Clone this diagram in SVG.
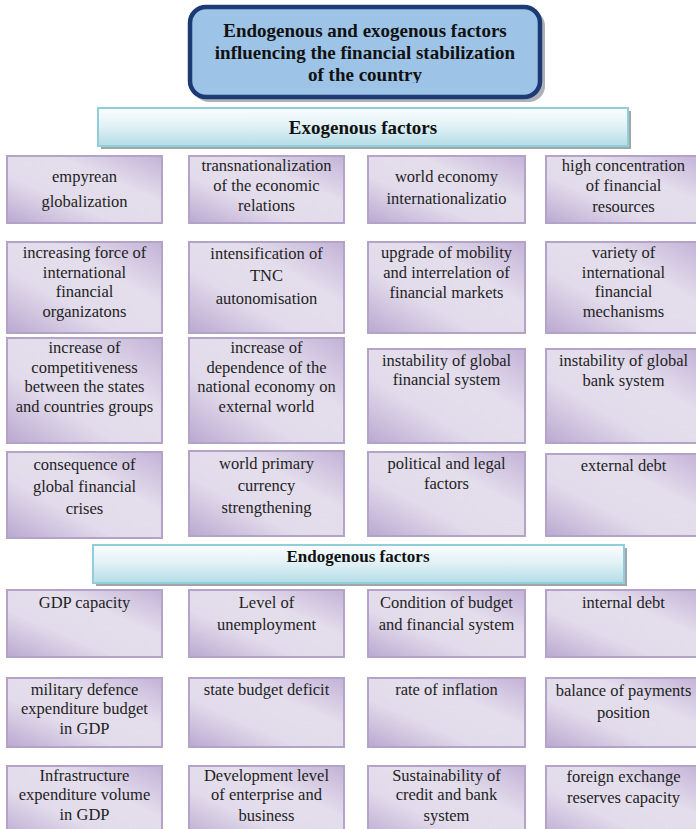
<svg xmlns="http://www.w3.org/2000/svg" width="696" height="829" viewBox="0 0 696 829">
<style>
text{font-family:"Liberation Serif","Times New Roman","DejaVu Serif",serif}
.t{font-size:16.5px;font-weight:normal;fill:#1e1e1e;text-anchor:middle}
.h{font-weight:bold;fill:#111;text-anchor:middle}
.box{fill:url(#gBox);stroke:#b3a3c9;stroke-width:2}
.bar{fill:url(#gBar);stroke:#92cddc;stroke-width:2}
.sh{fill:#9fa5a8}
</style>
<defs>
<linearGradient id="gBox" x1="1" y1="0" x2="0" y2="1">
<stop offset="0" stop-color="#c3b2d7"/>
<stop offset="0.35" stop-color="#e4deec"/>
<stop offset="0.65" stop-color="#e2dbeb"/>
<stop offset="1" stop-color="#baa8d0"/>
</linearGradient>
<linearGradient id="gBar" x1="0" y1="0" x2="0" y2="1">
<stop offset="0" stop-color="#fbfdfe"/>
<stop offset="0.45" stop-color="#e3f2f6"/>
<stop offset="1" stop-color="#b4dce6"/>
</linearGradient>
<clipPath id="cTitle"><rect x="180" y="0" width="380" height="83"/></clipPath>
</defs>

<g id="title">
<rect x="193" y="10" width="352" height="92" rx="16" fill="#8b9099" opacity="0.7"/>
<rect x="190" y="7" width="350" height="90" rx="16" fill="#9dc3e6" stroke="#1c3a73" stroke-width="4.5"/>
<g clip-path="url(#cTitle)">
<text class="h" x="365" y="37" font-size="19">Endogenous and exogenous factors</text>
<text class="h" x="365" y="59" font-size="19">influencing the financial stabilization</text>
<text class="h" x="365" y="81" font-size="19">of the country</text>
</g>
</g>

<g id="exogenous">
<rect class="sh" x="101" y="111" width="530" height="38"/>
<rect class="bar" x="98" y="108" width="530" height="38"/>
<text class="h" x="363" y="134" font-size="19">Exogenous factors</text>
</g>

<g id="ex-1-1"><rect class="box" x="7" y="156" width="155" height="67"/>
<text class="t" x="84.5" y="182">empyrean</text><text class="t" x="84.5" y="207">globalization</text></g>
<g id="ex-1-2"><rect class="box" x="189" y="156" width="155" height="67"/>
<text class="t" x="266.5" y="171">transnationalization</text><text class="t" x="266.5" y="191">of the economic</text><text class="t" x="266.5" y="211">relations</text></g>
<g id="ex-1-3"><rect class="box" x="368" y="156" width="157" height="67"/>
<text class="t" x="446.5" y="182">world economy</text><text class="t" x="446.5" y="204">internationalizatio</text></g>
<g id="ex-1-4"><rect class="box" x="546" y="156" width="155" height="67"/>
<text class="t" x="623.5" y="171">high concentration</text><text class="t" x="623.5" y="191">of financial</text><text class="t" x="623.5" y="212">resources</text></g>

<g id="ex-2-1"><rect class="box" x="7" y="242" width="155" height="91"/>
<text class="t" x="84.5" y="258">increasing force of</text><text class="t" x="84.5" y="277.5">international</text><text class="t" x="84.5" y="297">financial</text><text class="t" x="84.5" y="316.5">organizatons</text></g>
<g id="ex-2-2"><rect class="box" x="189" y="242" width="155" height="91"/>
<text class="t" x="266.5" y="259">intensification of</text><text class="t" x="266.5" y="281">TNC</text><text class="t" x="266.5" y="304">autonomisation</text></g>
<g id="ex-2-3"><rect class="box" x="368" y="242" width="157" height="91"/>
<text class="t" x="446.5" y="258">upgrade of mobility</text><text class="t" x="446.5" y="278">and interrelation of</text><text class="t" x="446.5" y="298">financial markets</text></g>
<g id="ex-2-4"><rect class="box" x="546" y="242" width="155" height="91"/>
<text class="t" x="623.5" y="258">variety of</text><text class="t" x="623.5" y="277.5">international</text><text class="t" x="623.5" y="297">financial</text><text class="t" x="623.5" y="317">mechanisms</text></g>

<g id="ex-3-1"><rect class="box" x="7" y="338" width="155" height="105"/>
<text class="t" x="84.5" y="353">increase of</text><text class="t" x="84.5" y="373">competitiveness</text><text class="t" x="84.5" y="392">between the states</text><text class="t" x="84.5" y="412">and countries groups</text></g>
<g id="ex-3-2"><rect class="box" x="189" y="338" width="155" height="105"/>
<text class="t" x="266.5" y="353">increase of</text><text class="t" x="266.5" y="373">dependence of the</text><text class="t" x="266.5" y="392">national economy on</text><text class="t" x="266.5" y="412">external world</text></g>
<g id="ex-3-3"><rect class="box" x="368" y="349" width="157" height="94"/>
<text class="t" x="446.5" y="366">instability of global</text><text class="t" x="446.5" y="385">financial system</text></g>
<g id="ex-3-4"><rect class="box" x="546" y="349" width="155" height="94"/>
<text class="t" x="623.5" y="366">instability of global</text><text class="t" x="623.5" y="386">bank system</text></g>

<g id="ex-4-1"><rect class="box" x="7" y="452" width="155" height="86"/>
<text class="t" x="84.5" y="470">consequence of</text><text class="t" x="84.5" y="492">global financial</text><text class="t" x="84.5" y="514">crises</text></g>
<g id="ex-4-2"><rect class="box" x="189" y="451" width="155" height="85"/>
<text class="t" x="266.5" y="469">world primary</text><text class="t" x="266.5" y="491">currency</text><text class="t" x="266.5" y="513">strengthening</text></g>
<g id="ex-4-3"><rect class="box" x="368" y="452" width="157" height="84"/>
<text class="t" x="446.5" y="469">political and legal</text><text class="t" x="446.5" y="489">factors</text></g>
<g id="ex-4-4"><rect class="box" x="546" y="454" width="155" height="82"/>
<text class="t" x="623.5" y="471">external debt</text></g>

<g id="endogenous">
<rect class="sh" x="96" y="548" width="531" height="38"/>
<rect class="bar" x="93" y="545" width="531" height="38"/>
<text class="h" x="358" y="562" font-size="17">Endogenous factors</text>
</g>

<g id="en-1-1"><rect class="box" x="7" y="590" width="155" height="67"/>
<text class="t" x="84.5" y="608">GDP capacity</text></g>
<g id="en-1-2"><rect class="box" x="189" y="590" width="155" height="67"/>
<text class="t" x="266.5" y="608">Level of</text><text class="t" x="266.5" y="630">unemployment</text></g>
<g id="en-1-3"><rect class="box" x="368" y="590" width="157" height="67"/>
<text class="t" x="446.5" y="608">Condition of budget</text><text class="t" x="446.5" y="630">and financial system</text></g>
<g id="en-1-4"><rect class="box" x="546" y="590" width="155" height="67"/>
<text class="t" x="623.5" y="608">internal debt</text></g>

<g id="en-2-1"><rect class="box" x="7" y="678" width="155" height="69"/>
<text class="t" x="84.5" y="695">military defence</text><text class="t" x="84.5" y="714">expenditure budget</text><text class="t" x="84.5" y="734">in GDP</text></g>
<g id="en-2-2"><rect class="box" x="189" y="678" width="155" height="69"/>
<text class="t" x="266.5" y="695">state budget deficit</text></g>
<g id="en-2-3"><rect class="box" x="368" y="678" width="157" height="69"/>
<text class="t" x="446.5" y="695">rate of inflation</text></g>
<g id="en-2-4"><rect class="box" x="546" y="678" width="155" height="69"/>
<text class="t" x="623.5" y="696">balance of payments</text><text class="t" x="623.5" y="718">position</text></g>

<g id="en-3-1"><rect class="box" x="7" y="766" width="155" height="75"/>
<text class="t" x="84.5" y="781">Infrastructure</text><text class="t" x="84.5" y="800">expenditure volume</text><text class="t" x="84.5" y="820">in GDP</text></g>
<g id="en-3-2"><rect class="box" x="189" y="766" width="155" height="75"/>
<text class="t" x="266.5" y="781">Development level</text><text class="t" x="266.5" y="800">of enterprise and</text><text class="t" x="266.5" y="821">business</text></g>
<g id="en-3-3"><rect class="box" x="368" y="766" width="157" height="75"/>
<text class="t" x="446.5" y="781">Sustainability of</text><text class="t" x="446.5" y="800">credit and bank</text><text class="t" x="446.5" y="821">system</text></g>
<g id="en-3-4"><rect class="box" x="546" y="766" width="155" height="75"/>
<text class="t" x="623.5" y="782">foreign exchange</text><text class="t" x="623.5" y="803">reserves capacity</text></g>

<g id="connectors"/>
</svg>
